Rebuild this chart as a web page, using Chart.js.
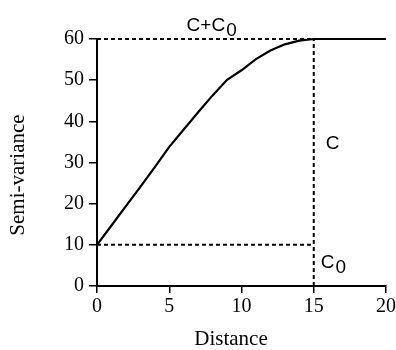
<!DOCTYPE html>
<html>
<head>
<meta charset="utf-8">
<script src="https://cdn.jsdelivr.net/npm/chart.js@4.4.0/dist/chart.umd.min.js"></script>
<style>
  html, body { margin: 0; padding: 0; background: #fff; }
  #wrap { width: 396px; height: 350px; }
</style>
</head>
<body>
<div id="wrap"><canvas id="myChart" width="396" height="350"></canvas></div>
<script>
// Semi-variogram values
const distance = [0, 1, 2, 3, 4, 5, 6, 7, 8, 9, 10, 11, 12, 13, 14, 15, 16, 17, 18, 19, 20];
const semiVariance = [10, 14.7, 19.4, 24.1, 28.9, 33.8, 38, 42.2, 46.3, 50.1, 52.4, 55.1, 57.2, 58.7, 59.6, 60, 60, 60, 60, 60, 60];

// Guide lines: sill (C+C0), range and nugget (C0)
const range = 15;
const nugget = 10;
const sill = 60;
const xTicks = [0, 5, 10, 15, 20];
const yTicks = [0, 10, 20, 30, 40, 50, 60];

const serif = "'Liberation Serif', 'Times New Roman', serif";
const sans = "'Liberation Sans', Arial, sans-serif";

document.addEventListener('DOMContentLoaded', function () {
    createChart();
});

// draws axis titles and the C+C0, C and C0 labels
const labelPlugin = {
    id: 'varioLabels',
    afterDraw(chart) {
        const ctx = chart.ctx;
        const xs = chart.scales.x;
        const ys = chart.scales.y;
        ctx.save();
        ctx.fillStyle = '#000';
        ctx.textBaseline = 'alphabetic';
        ctx.textAlign = 'left';

        function withSub(text, x, y) {
            ctx.font = '19px ' + sans;
            ctx.fillText(text, x, y);
            let w = ctx.measureText(text).width;
            ctx.fillText('0', x + w + 1, y + 5);
        }

        // sill label above the plot
        withSub('C+C', xs.getPixelForValue(6.2), ys.getPixelForValue(sill) - 8);
        // C between nugget and sill
        ctx.font = '19px ' + sans;
        ctx.fillText('C', xs.getPixelForValue(range) + 12, ys.getPixelForValue(33.3));
        // C0 below the nugget line
        withSub('C', xs.getPixelForValue(range) + 7, ys.getPixelForValue(4.3));

        // axis titles
        ctx.font = '21px ' + serif;
        ctx.textAlign = 'center';
        ctx.textBaseline = 'middle';
        ctx.fillText('Distance', 231, 339);
        ctx.translate(18, 175);
        ctx.rotate(-Math.PI / 2);
        ctx.fillText('Semi-variance', 0, 0);
        ctx.restore();
    }
};

function createChart() {
    const ctx = document.getElementById('myChart').getContext('2d');

    const dashed = {
        borderColor: '#000',
        borderWidth: 2,
        borderDash: [4, 3],
        pointRadius: 0,
        fill: false,
        clip: false
    };

    const myChart = new Chart(ctx, {
        type: 'line',
        data: {
            datasets: [
                Object.assign({
                    label: 'sill',
                    data: [{ x: 0, y: sill }, { x: range, y: sill }]
                }, dashed),
                Object.assign({
                    label: 'range',
                    data: [{ x: range, y: 0 }, { x: range, y: sill }]
                }, dashed),
                Object.assign({
                    label: 'nugget',
                    data: [{ x: 0, y: nugget }, { x: range, y: nugget }]
                }, dashed),
                {
                    label: 'Semi-variance',
                    data: distance.map((d, i) => ({ x: d, y: semiVariance[i] })),
                    borderColor: '#000',
                    borderWidth: 2.2,
                    pointRadius: 0,
                    tension: 0,
                    fill: false,
                    clip: false
                }
            ]
        },
        options: {
            responsive: false,
            animation: false,
            layout: {
                padding: { top: 39, right: 10, left: 0, bottom: 0 }
            },
            plugins: {
                legend: { display: false },
                tooltip: { enabled: false }
            },
            scales: {
                x: {
                    type: 'linear',
                    min: 0,
                    max: 20,
                    afterBuildTicks: function (scale) {
                        scale.ticks = xTicks.map(v => ({ value: v }));
                    },
                    afterFit: function (scale) {
                        scale.height = 64;
                        scale.paddingRight = 0;
                        scale.paddingLeft = 0;
                    },
                    grid: {
                        drawOnChartArea: false,
                        drawTicks: true,
                        tickLength: 7,
                        color: '#000',
                        lineWidth: 1.5
                    },
                    border: { display: true, color: '#000', width: 2 },
                    ticks: {
                        color: '#000',
                        padding: 2,
                        maxRotation: 0,
                        font: { family: serif, size: 20 }
                    },
                    title: { display: false }
                },
                y: {
                    min: 0,
                    max: 60,
                    afterBuildTicks: function (scale) {
                        scale.ticks = yTicks.map(v => ({ value: v }));
                    },
                    afterFit: function (scale) {
                        scale.width = 97;
                        scale.paddingTop = 0;
                        scale.paddingBottom = 0;
                    },
                    grid: {
                        drawOnChartArea: false,
                        drawTicks: true,
                        tickLength: 8,
                        color: '#000',
                        lineWidth: 1.5
                    },
                    border: { display: true, color: '#000', width: 2 },
                    ticks: {
                        color: '#000',
                        padding: 5,
                        font: { family: serif, size: 20 }
                    },
                    title: { display: false }
                }
            }
        },
        plugins: [labelPlugin]
    });
}
</script>
</body>
</html>
